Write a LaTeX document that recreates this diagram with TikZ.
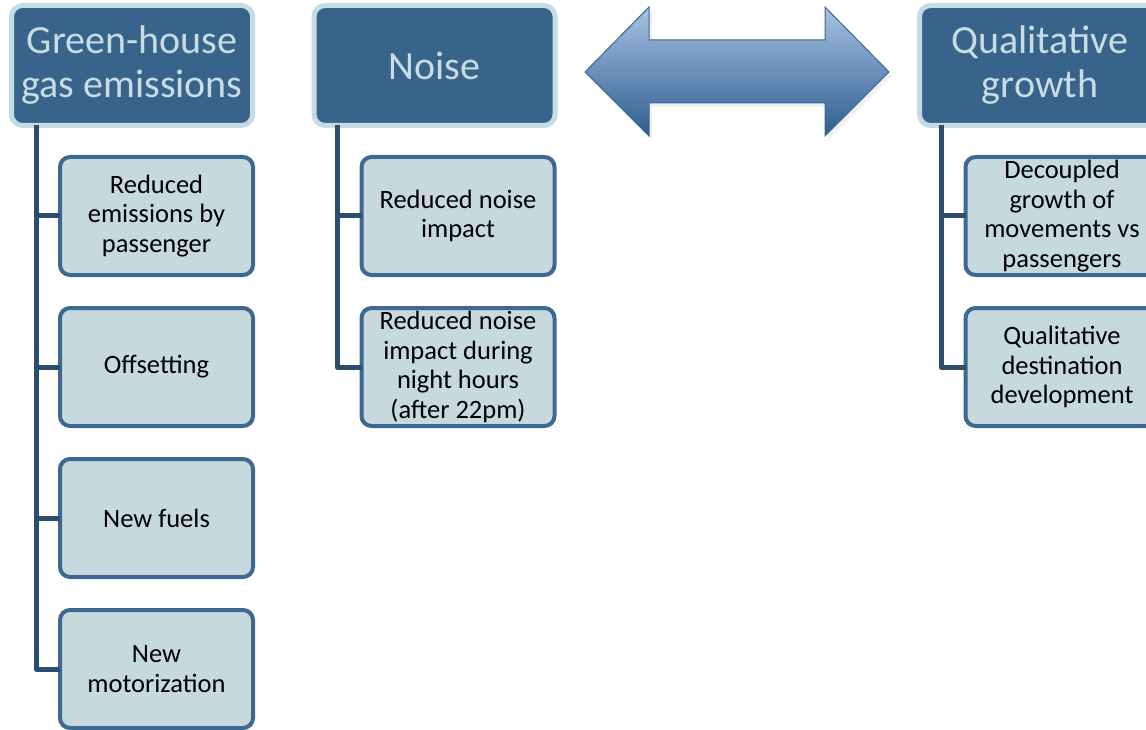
\documentclass[tikz,border=0pt]{standalone}
\usepackage{fontspec}
\setmainfont{Carlito}
\definecolor{hdrfill}{HTML}{38648C}
\definecolor{hdrline}{HTML}{C5DCE3}
\definecolor{hdrtext}{HTML}{C8DCE2}
\definecolor{kidfill}{HTML}{C5D9DF}
\definecolor{kidline}{HTML}{3E6891}
\definecolor{treeline}{HTML}{2C4E6E}
\definecolor{arrtop}{HTML}{A8C1E3}
\definecolor{arrbot}{HTML}{2E5D8E}
\definecolor{arredge}{HTML}{3A6894}
\begin{document}
\begin{tikzpicture}[x=1pt,y=-1pt,
  hdr/.style={draw=hdrline, fill=hdrfill, line width=5pt, rounded corners=11pt,
    minimum width=241pt, minimum height=120pt, inner sep=0pt, outer sep=0pt,
    text=hdrtext, align=center, font=\fontsize{40}{44}\selectfont},
  kid/.style={draw=kidline, fill=kidfill, line width=4pt, rounded corners=10pt,
    minimum width=193pt, minimum height=118pt, inner sep=0pt, outer sep=0pt,
    text=black, align=center, font=\fontsize{26.5}{29.5}\selectfont},
  tree/.style={draw=treeline, line width=5pt}]
\useasboundingbox (0,0) rectangle (1146,730);
% headers
\node[hdr] (h1) at (132,65.5) {Green-house\\gas emissions};
\node[hdr] (h2) at (434.5,65.5) {Noise};
\node[hdr] (h3) at (1040,65.5) {Qualitative\\growth};
% tree lines
\coordinate (t1) at ([xshift=24.5pt]h1.south west);
\coordinate (t2) at ([xshift=23pt]h2.south west);
\coordinate (t3) at ([xshift=21.5pt]h3.south west);
% children
\node[kid] (a1) at (156.5,216) {Reduced\\emissions by\\passenger};
\node[kid] (a2) at (156.5,367) {Offsetting};
\node[kid] (a3) at (156.5,518) {New fuels};
\node[kid] (a4) at (156.5,669) {New\\motorization};
\node[kid] (b1) at (458,216) {Reduced noise\\impact};
\node[kid] (b2) at (458,367) {Reduced noise\\impact during\\night hours\\(after 22pm)};
\node[kid] (c1) at (1062,216) {Decoupled\\growth of\\movements vs\\passengers};
\node[kid] (c2) at (1062,367) {Qualitative\\destination\\development};
\draw[tree, line join=round] (t1) |- (a4.west);
\draw[tree] (t1 |- a1.west) -- (a1.west);
\draw[tree] (t1 |- a2.west) -- (a2.west);
\draw[tree] (t1 |- a3.west) -- (a3.west);
\draw[tree, line join=round] (t2) |- (b2.west);
\draw[tree] (t2 |- b1.west) -- (b1.west);
\draw[tree, line join=round] (t3) |- (c2.west);
\draw[tree] (t3 |- c1.west) -- (c1.west);
% double arrow
\fill[black!6] (588,76) -- (652,11) -- (652,44) -- (828,44) -- (828,11) -- (892,76) -- (828,140) -- (828,107) -- (652,107) -- (652,140) -- cycle;
\shadedraw[top color=arrtop, bottom color=arrbot, draw=arredge, line width=1pt]
  (585,72) -- (649,7) -- (649,40) -- (825,40) -- (825,7) -- (889,72)
  -- (825,136) -- (825,103) -- (649,103) -- (649,136) -- cycle;
\end{tikzpicture}
\end{document}
